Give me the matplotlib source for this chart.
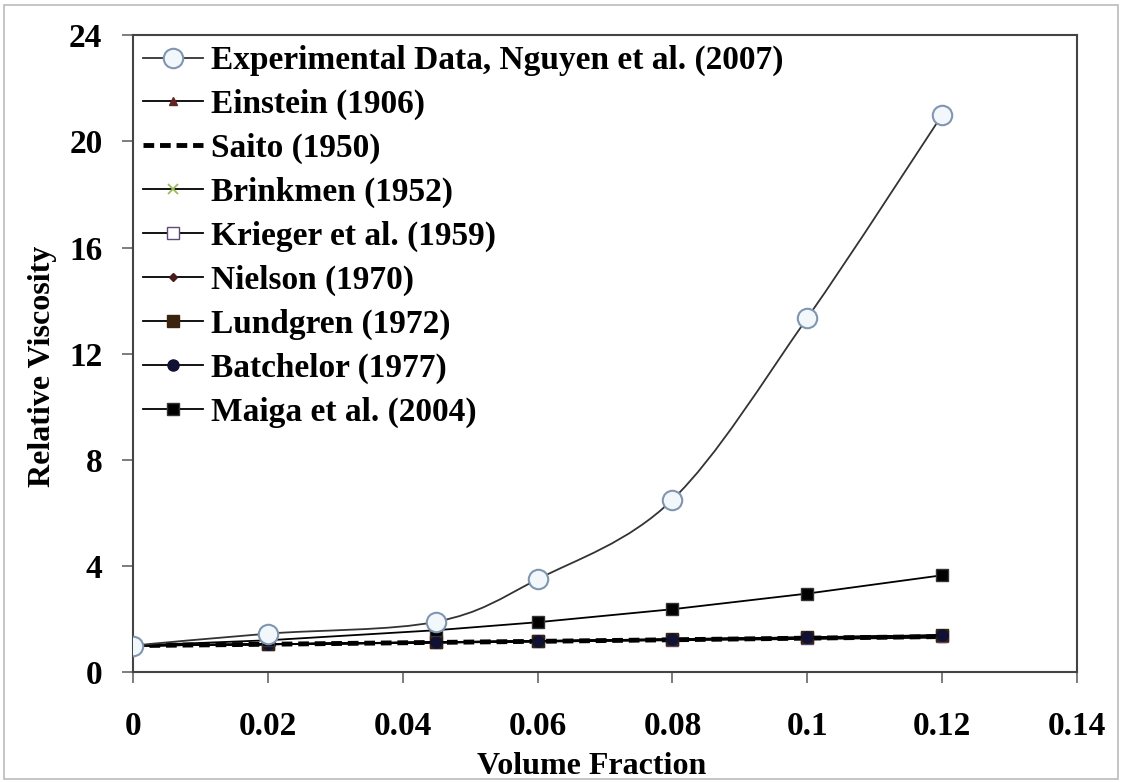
import numpy as np
import matplotlib.pyplot as plt
from matplotlib.path import Path
from matplotlib.patches import PathPatch, Rectangle

plt.rcParams["font.family"] = ["Liberation Serif", "DejaVu Serif"]
plt.rcParams["font.weight"] = "bold"

# volume fraction at which every model / measurement is reported
phi = [0.0, 0.02, 0.045, 0.06, 0.08, 0.10, 0.12]

nguyen = [1.0, 1.45, 1.9, 3.5, 6.5, 13.35, 21.0]
einstein = [1.0, 1.05, 1.11, 1.15, 1.20, 1.25, 1.30]
saito = [1.0, 1.05, 1.12, 1.16, 1.22, 1.28, 1.34]
brinkman = [1.0, 1.05, 1.12, 1.17, 1.23, 1.30, 1.38]
krieger = [1.0, 1.05, 1.12, 1.16, 1.22, 1.29, 1.36]
nielson = [1.0, 1.05, 1.12, 1.17, 1.23, 1.30, 1.37]
lundgren = [1.0, 1.05, 1.13, 1.17, 1.24, 1.31, 1.39]
batchelor = [1.0, 1.05, 1.13, 1.17, 1.24, 1.31, 1.39]
maiga = [1.0, 1.20, 1.58, 1.88, 2.37, 2.96, 3.65]

x_ticks = [0, 0.02, 0.04, 0.06, 0.08, 0.10, 0.12, 0.14]
x_ticklabels = ["0", "0.02", "0.04", "0.06", "0.08", "0.1", "0.12", "0.14"]
y_ticks = [0, 4, 8, 12, 16, 20, 24]

FS = 24
LABEL_FS = 23


def smooth_path(xs, ys, tension=6.0):
    # Catmull-Rom style bezier through the points (spreadsheet "smoothed line")
    pts = np.column_stack([xs, ys])
    verts = [pts[0]]
    codes = [Path.MOVETO]
    n = len(pts)
    for i in range(n - 1):
        p0 = pts[i - 1] if i > 0 else pts[i]
        p1 = pts[i]
        p2 = pts[i + 1]
        p3 = pts[i + 2] if i + 2 < n else pts[i + 1]
        c1 = p1 + (p2 - p0) / tension
        c2 = p2 - (p3 - p1) / tension
        verts += [c1, c2, p2]
        codes += [Path.CURVE4] * 3
    return Path(verts, codes)


fig = plt.figure(figsize=(11.22, 7.82), dpi=100)
ax = fig.add_axes([0.1185, 0.1405, 0.8415, 0.8145])

lw = 1.3
ax.plot(phi, einstein, color="black", lw=lw, marker="^", ms=6,
        mfc="#632523", mec="#632523", label="Einstein (1906)", zorder=3)
ax.plot(phi, saito, color="black", lw=3.5, ls=(0, (2.2, 1.2)),
        label="Saito (1950)", zorder=3)
ax.plot(phi, brinkman, color="black", lw=lw, marker="x", ms=7, mew=1.3,
        mec="#9bbb59", label="Brinkmen (1952)", zorder=3)
ax.plot(phi, krieger, color="black", lw=lw, marker="s", ms=9,
        mfc="white", mec="#5f497a", label="Krieger et al. (1959)", zorder=3)
ax.plot(phi, nielson, color="black", lw=lw, marker="D", ms=4,
        mfc="#4a1a1a", mec="#4a1a1a", label="Nielson (1970)", zorder=3)
ax.plot(phi, lundgren, color="black", lw=lw, marker="s", ms=8,
        mfc="#3a2410", mec="#3a2410", label="Lundgren (1972)", zorder=3)
ax.plot(phi, batchelor, color="black", lw=lw, marker="o", ms=8,
        mfc="#111133", mec="#111133", label="Batchelor (1977)", zorder=4)
ax.plot(phi, maiga, color="black", lw=lw, marker="s", ms=9,
        mfc="black", mec="#333333", label="Maiga et al. (2004)", zorder=4)

# measured data: smoothed curve plus open circles
ax.add_patch(PathPatch(smooth_path(phi, nguyen), fill=False,
                       ec="#333333", lw=lw, zorder=5))
ax.plot(phi, nguyen, ls="none", marker="o", ms=14, mfc="#f2f7fc",
        mec="#8096b0", mew=1.5, zorder=6)
ax.plot([], [], color="#333333", lw=lw, marker="o", ms=14,
        mfc="#f2f7fc", mec="#8096b0", mew=1.5,
        label="Experimental Data, Nguyen et al. (2007)")

ax.set_xlim(0, 0.14)
ax.set_ylim(0, 24)
ax.set_xticks(x_ticks)
ax.set_xticklabels(x_ticklabels)
ax.set_yticks(y_ticks)
ax.tick_params(axis="both", labelsize=FS, width=1.2, length=8,
               direction="out", color="#666666")
ax.tick_params(axis="x", pad=20)
ax.tick_params(axis="y", pad=14)
for lab in ax.get_xticklabels() + ax.get_yticklabels():
    lab.set_fontweight("bold")

for side in ["left", "bottom", "top", "right"]:
    ax.spines[side].set_color("#444444")
    ax.spines[side].set_linewidth(1.5)

ax.set_xlabel("Volume Fraction", fontsize=LABEL_FS, fontweight="bold")
ax.set_ylabel("Relative Viscosity", fontsize=LABEL_FS, fontweight="bold")
ax.xaxis.set_label_coords(0.486, -0.126)
ax.yaxis.set_label_coords(-0.08, 0.48)

handles, labels = ax.get_legend_handles_labels()
order = [labels.index("Experimental Data, Nguyen et al. (2007)")] + \
        [i for i, l in enumerate(labels) if not l.startswith("Experimental")]
leg = ax.legend([handles[i] for i in order], [labels[i] for i in order],
                loc="upper left", bbox_to_anchor=(0.0, 1.0), frameon=False,
                prop={"weight": "bold", "size": FS},
                handlelength=1.8, handletextpad=0.25, labelspacing=0.38,
                borderaxespad=0.0, borderpad=0.3)

# thin frame around the whole figure
fig.patches.append(Rectangle((0.004, 0.004), 0.992, 0.99, transform=fig.transFigure,
                             fill=False, ec="#bbbbbb", lw=1.2))

fig.savefig("out.png", dpi=100)
